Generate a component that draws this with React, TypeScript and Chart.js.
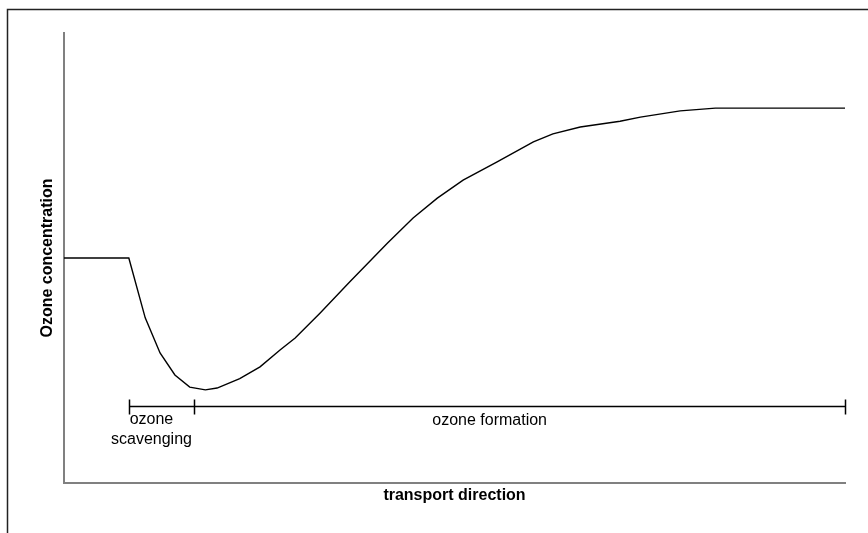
import React, { useEffect, useRef } from "react";
import { Chart, registerables } from "chart.js";

Chart.register(...registerables);

// transport distance (arbitrary units) and ozone concentration (arbitrary units)
const distance = [0, 8.3, 10.4, 12.3, 14.2, 16.1, 18.1, 19.6, 22.5, 25.1, 27.7, 29.6, 32.8, 36.6, 41.4, 44.7, 47.8, 51.1, 55.4, 60.1, 62.6, 66.1, 71.2, 73.8, 78.9, 83.4, 100];
const ozone = [50, 50, 36.7, 28.9, 24.0, 21.3, 20.7, 21.1, 23.2, 25.8, 29.6, 32.2, 37.8, 44.7, 53.3, 58.9, 63.3, 67.3, 71.3, 75.8, 77.6, 79.1, 80.4, 81.3, 82.7, 83.3, 83.3];

// phase boundaries along the transport direction
const phaseBounds = [8.3, 16.6, 100];
const phaseLevel = 17;
const phaseLabels = [
  { lines: ["ozone", "scavenging"], x: 11.2, y: [14.1, 9.7] },
  { lines: ["ozone formation"], x: 54.5, y: [13.8] },
];

const FONT = "Arial, 'Liberation Sans', sans-serif";

const framePlugin = {
  id: "frame",
  beforeDraw(chart: any) {
    const ctx = chart.ctx;
    ctx.save();
    ctx.strokeStyle = "#222";
    ctx.lineWidth = 1.5;
    ctx.beginPath();
    ctx.moveTo(7.5, chart.height);
    ctx.lineTo(7.5, 9.5);
    ctx.lineTo(chart.width, 9.5);
    ctx.stroke();
    ctx.restore();
  },
};

const phasePlugin = {
  id: "phases",
  afterDatasetsDraw(chart: any) {
    const ctx = chart.ctx;
    const xs = chart.scales.x;
    const ys = chart.scales.y;
    const py = ys.getPixelForValue(phaseLevel);
    ctx.save();
    ctx.strokeStyle = "#000";
    ctx.lineWidth = 1.5;
    ctx.beginPath();
    ctx.moveTo(xs.getPixelForValue(phaseBounds[0]), py);
    ctx.lineTo(xs.getPixelForValue(phaseBounds[phaseBounds.length - 1]), py);
    for (const b of phaseBounds) {
      const px = Math.round(xs.getPixelForValue(b)) + 0.5;
      ctx.moveTo(px, py - 7);
      ctx.lineTo(px, py + 8);
    }
    ctx.stroke();
    ctx.fillStyle = "#000";
    ctx.font = `16px ${FONT}`;
    ctx.textAlign = "center";
    ctx.textBaseline = "middle";
    for (const l of phaseLabels) {
      l.lines.forEach((t, i) => {
        ctx.fillText(t, xs.getPixelForValue(l.x), ys.getPixelForValue(l.y[i]));
      });
    }
    ctx.restore();
  },
};

export default function App() {
  const ref = useRef<HTMLCanvasElement>(null);
  useEffect(() => {
    if (!ref.current) return;
    const chart = new Chart(ref.current, {
      type: "scatter",
      data: {
        datasets: [
          {
            data: distance.map((x, i) => ({ x, y: ozone[i] })),
            showLine: true,
            borderColor: "#000",
            borderWidth: 1.4,
            pointRadius: 0,
            tension: 0,
            fill: false,
          },
        ],
      },
      options: {
        animation: false,
        responsive: true,
        maintainAspectRatio: false,
        layout: { padding: { left: 0, top: 33, right: 23, bottom: 0 } },
        plugins: { legend: { display: false }, tooltip: { enabled: false } },
        scales: {
          x: {
            type: "linear",
            min: 0,
            max: 100,
            ticks: { display: false },
            grid: { display: false },
            border: { display: true, color: "#808080", width: 2 },
            title: {
              display: true,
              text: "transport direction",
              color: "#000",
              font: { family: FONT, size: 16, weight: "bold" },
              padding: { top: 0, bottom: 27.4 },
            },
            afterFit: (s: any) => {
              s.height = 50;
            },
          },
          y: {
            type: "linear",
            min: 0,
            max: 100,
            ticks: { display: false },
            grid: { display: false },
            border: { display: true, color: "#808080", width: 2 },
            title: {
              display: true,
              text: "Ozone concentration",
              color: "#000",
              font: { family: FONT, size: 16, weight: "bold" },
              padding: { top: 38.4, bottom: 0 },
            },
            afterFit: (s: any) => {
              s.width = 64;
            },
          },
        },
      },
      plugins: [framePlugin, phasePlugin],
    });
    return () => chart.destroy();
  }, []);
  return (
    <div style={{ position: "fixed", left: 0, top: 0, width: 868, height: 533, background: "#fff" }}>
      <canvas ref={ref} />
    </div>
  );
}
